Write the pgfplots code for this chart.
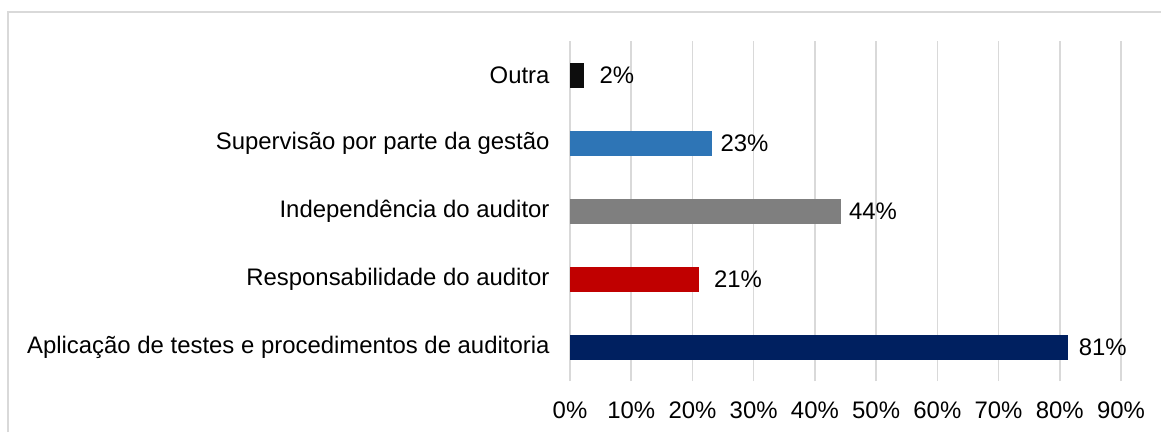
\documentclass[border=0pt]{standalone}
\usepackage{fontspec}
\setmainfont{Liberation Sans}
\usepackage{pgfplots}
\pgfplotsset{compat=1.18}
\definecolor{gridc}{HTML}{D9D9D9}
\definecolor{cout}{HTML}{0D0D0D}
\definecolor{csup}{HTML}{2E75B6}
\definecolor{cind}{HTML}{7F7F7F}
\definecolor{cres}{HTML}{C00000}
\definecolor{capl}{HTML}{002060}
\begin{document}
\begin{tikzpicture}[x=1bp,y=1bp]
\path[use as bounding box] (0,0) rectangle (1161,432);
\draw[line width=1.5bp, draw=gridc] (8,0) -- (8,420) -- (1161,420);
\begin{axis}[
  at={(570bp,51bp)}, anchor=south west,
  scale only axis, width=551bp, height=340bp,
  xmin=0, xmax=90, ymin=-0.5, ymax=4.5,
  xbar, bar width=25bp, bar shift=0pt,
  axis line style={draw=none},
  xmajorgrids, grid style={gridc, line width=1.5bp},
  major tick length=0pt,
  xtick={0,10,...,90},
  /pgf/number format/assume math mode=true,
  xticklabel={\pgfmathprintnumber{\tick}\%},
  ytick={0,1,2,3,4},
  yticklabels={Aplicação de testes e procedimentos de auditoria, Responsabilidade do auditor, Independência do auditor, Supervisão por parte da gestão, Outra},
  ticklabel style={font=\fontsize{24}{28}\selectfont},
  xticklabel style={yshift=-17bp},
  yticklabel style={xshift=-17bp},
  nodes near coords={\pgfmathprintnumber[fixed,precision=0]{\pgfplotspointmeta}\%},
  every node near coord/.append style={font=\fontsize{24}{28}\selectfont, anchor=west, xshift=5bp},
  clip=false,
]
\addplot[fill=capl, draw=none, every node near coord/.append style={xshift=2bp}] coordinates {(81.4,0)};
\addplot[fill=cres, draw=none, every node near coord/.append style={xshift=7bp}] coordinates {(21.0,1)};
\addplot[fill=cind, draw=none] coordinates {(44.2,2)};
\addplot[fill=csup, draw=none] coordinates {(23.2,3)};
\addplot[fill=cout, draw=none, every node near coord/.append style={xshift=7bp}] coordinates {(2.3,4)};
\end{axis}
\end{tikzpicture}
\end{document}
